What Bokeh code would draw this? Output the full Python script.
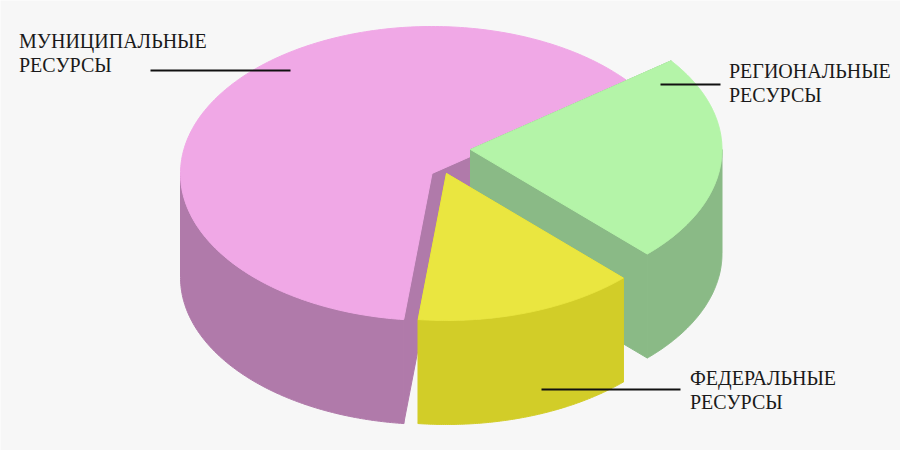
import numpy as np
from bokeh.plotting import figure
from bokeh.models import Range1d
from bokeh.core.properties import value
from bokeh.embed import file_html
from bokeh.resources import INLINE

# Data
categories = ["Региональные ресурсы", "Федеральные ресурсы", "Муниципальные ресурсы"]
shares = [22.9, 14.2, 62.9]

# Labels
label_lines = [["РЕГИОНАЛЬНЫЕ", "РЕСУРСЫ"], ["ФЕДЕРАЛЬНЫЕ", "РЕСУРСЫ"], ["МУНИЦИПАЛЬНЫЕ", "РЕСУРСЫ"]]

# Styles and layout
top_colors = ["#b4f4a8", "#eae640", "#f0a8e6"]
side_colors = ["#8aba86", "#d2cd28", "#b07aaa"]
BG = "#f7f7f7"
RX, RY, DEPTH = 251.5, 147.0, 104.0
START = -37.1
tips = [(470, 149), (446, 173), (431.5, 173)]
label_xy = [(728.5, 70), (689.5, 377), (18.5, 40)]
LINE_GAP = 24
leaders = [(660, 720, 84), (541, 680, 389), (150, 290, 70)]

p = figure(width=900, height=450, output_backend="svg", toolbar_location=None,
           x_range=Range1d(0, 900), y_range=Range1d(450, 0),
           background_fill_color=BG, border_fill_color=BG, min_border=0,
           outline_line_color=None, x_axis_type=None, y_axis_type=None)
p.grid.visible = False


def arc(a, b, cx, cy, dy=0.0, n=120):
    t = np.radians(np.linspace(a, b, n))
    return cx + RX * np.cos(t), cy + dy + RY * np.sin(t)


# slice angles
angles = START + np.concatenate([[0], np.cumsum(shares)]) * 3.6
slices = [(angles[i], angles[i + 1], tips[i], top_colors[i], side_colors[i]) for i in range(3)]


def fill(xs, ys, color):
    p.patch(list(xs), list(ys), fill_color=color, line_color=color, line_width=1)


def draw(sl):
    a, b, (cx, cy), top, side = sl
    # cut faces
    for ang in (a, b):
        ex, ey = arc(ang, ang, cx, cy, n=1)
        fill([cx, ex[0], ex[0], cx], [cy, ey[0], ey[0] + DEPTH, cy + DEPTH], side)
    # outer wall: only the part on the front half of the ellipse
    for k in (0, 360):
        lo, hi = max(a, k), min(b, k + 180)
        if lo < hi:
            xt, yt = arc(lo, hi, cx, cy)
            xb, yb = arc(lo, hi, cx, cy, DEPTH)
            fill(np.r_[xt, xb[::-1]], np.r_[yt, yb[::-1]], side)
    # top face
    xt, yt = arc(a, b, cx, cy, n=240)
    fill(np.r_[cx, xt], np.r_[cy, yt], top)


for i in (2, 0, 1):
    draw(slices[i])

for (x0, x1, y) in leaders:
    p.line([x0, x1], [y, y], line_color="#111111", line_width=2)

for lines, (x, y) in zip(label_lines, label_xy):
    for j, s in enumerate(lines):
        p.text([x], [y + j * LINE_GAP], text=[s], text_font=value("Liberation Serif"),
               text_font_size="20px", text_color="#1a1a1a",
               text_align="left", text_baseline="alphabetic")

open("out.html", "w").write(file_html(p, INLINE))
